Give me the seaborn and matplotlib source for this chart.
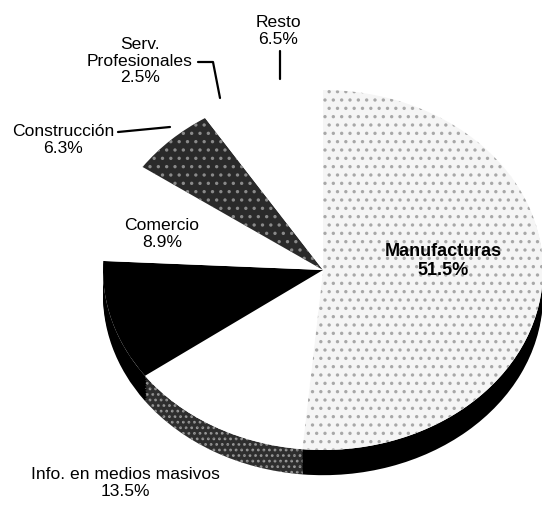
import numpy as np
import pandas as pd
import seaborn as sns
import matplotlib.pyplot as plt
from matplotlib.lines import Line2D

sns.set_style('white')
plt.rcParams['font.family'] = ['Liberation Sans', 'DejaVu Sans']
plt.rcParams['hatch.linewidth'] = 1.2

# slices, clockwise from 12 o'clock
sectors = ['Manufacturas', 'Info. en medios masivos', '', 'Comercio',
           'Construcción', 'Serv.\nProfesionales', 'Resto']
shares = [51.5, 13.5, 10.8, 8.9, 6.3, 2.5, 6.5]

df = pd.DataFrame({'sector': sectors, 'share': shares})
df['label'] = [f'{s}\n{v:.1f}%' if s else '' for s, v in zip(df['sector'], df['share'])]

top_colors = ['#f5f5f5', 'white', 'black', 'white', '#2a2a2a', 'white', 'white']
top_hatch = ['..', None, None, None, '..', None, None]
top_hatch_col = ['#a8a8a8', 'white', 'black', 'white', '#8a8a8a', 'white', 'white']
wall_colors = ['black', '#2e2e2e', 'black', 'white', 'white', 'white', 'white']
wall_hatch = [None, '...', None, None, None, None, None]
wall_hatch_col = ['black', '#9a9a9a', 'black', 'white', 'white', 'white', 'white']

W, H = 542, 506
fig = plt.figure(figsize=(W / 100, H / 100), dpi=100)
ax = fig.add_axes([0, 0, 1, 1])

def draw_pie(cy, colors, hatches, hcols):
    wedges, _ = ax.pie(df['share'], startangle=90, counterclock=False,
                       center=(0, cy), colors=colors,
                       wedgeprops=dict(linewidth=0))
    for w, h, c in zip(wedges, hatches, hcols):
        w.set_edgecolor(c)
        if h:
            w.set_hatch(h)
    return wedges

# side wall of the tilted pie
for depth in np.linspace(0.14, 0.01, 10):
    draw_pie(-depth, wall_colors, wall_hatch, wall_hatch_col)
# white base under the top face, so no dark seams show between wedges
ax.pie([1], startangle=90, colors=['white'], wedgeprops=dict(linewidth=0))
draw_pie(0, top_colors, top_hatch, top_hatch_col)

# pie centre at (323, 271) px, radii 220 x 180 px
ax.set_aspect('auto')
ax.set_xlim(-323 / 220, (W - 323) / 220)
ax.set_ylim(-(H - 271) / 180, 271 / 180)
ax.axis('off')

def fx(x):
    return x / W

def fy(y):
    return 1 - y / H

fs = 12.6
label_pos = {
    'Manufacturas': (443, 261),
    'Info. en medios masivos': (125, 483),
    'Comercio': (162, 234),
    'Construcción': (63, 140),
    'Serv.\nProfesionales': (140, 61),
    'Resto': (278, 31),
}
for _, row in df.iterrows():
    if not row['sector']:
        continue
    x, y = label_pos[row['sector']]
    fig.text(fx(x), fy(y), row['label'], ha='center', va='center',
             fontsize=13 if row['sector'] == 'Manufacturas' else fs,
             fontweight='bold' if row['sector'] == 'Manufacturas' else 'normal',
             linespacing=1.15, color='black')

# leader lines
leaders = [
    [(280, 52), (280, 80)],
    [(198, 63), (213, 63), (220, 99)],
    [(118, 133), (170, 128)],
]
for pts in leaders:
    xs = [fx(p[0]) for p in pts]
    ys = [fy(p[1]) for p in pts]
    fig.add_artist(Line2D(xs, ys, color='black', lw=1.6, transform=fig.transFigure))

fig.savefig('out.png', dpi=100)
